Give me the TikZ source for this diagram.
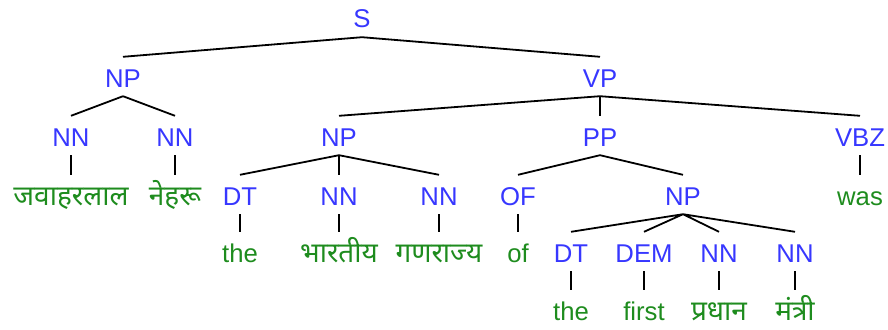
\documentclass[tikz,border=0pt]{standalone}
\usepackage{fontspec}
\setmainfont{Liberation Sans}
\newfontfamily\deva[Script=Devanagari]{Noto Sans}
\definecolor{tagblue}{RGB}{55,55,255}
\definecolor{wordgreen}{RGB}{30,140,30}
\tikzset{
  base/.style={anchor=base, inner xsep=2, inner ysep=9, text height=21, text depth=0,
               font=\fontsize{25.7}{30}\selectfont},
  tag/.style={base, text=tagblue},
  word/.style={base, text=wordgreen},
  hword/.style={word, font=\fontsize{28}{32}\selectfont\deva},
  edge/.style={draw=black, line width=1.8}
}
\begin{document}
\begin{tikzpicture}[x=1pt,y=-1pt]
\useasboundingbox (0,0) rectangle (888,329);

% phrase and tag labels
\node[tag] (s)    at (362,28)  {S};
\node[tag] (np1)  at (123,87)  {NP};
\node[tag] (vp)   at (600,87)  {VP};
\node[tag] (nn1)  at (71,146)  {NN};
\node[tag] (nn2)  at (175,146) {NN};
\node[tag] (np2)  at (339,146) {NP};
\node[tag] (pp)   at (600,146) {PP};
\node[tag] (vbz)  at (860,146) {VBZ};
\node[tag] (dt1)  at (240,205) {DT};
\node[tag] (nn3)  at (339,205) {NN};
\node[tag] (nn4)  at (439,205) {NN};
\node[tag] (of)   at (518,205) {OF};
\node[tag] (np3)  at (683,205) {NP};
\node[tag] (dt2)  at (571,262) {DT};
\node[tag] (dem)  at (644,262) {DEM};
\node[tag] (nn5)  at (719,262) {NN};
\node[tag] (nn6)  at (795,262) {NN};

% words
\node[hword] (w1)  at (71,205)  {जवाहरलाल};
\node[hword] (w2)  at (175,205) {नेहरू};
\node[word]  (w3)  at (860,205) {was};
\node[word]  (w4)  at (240,262) {the};
\node[hword] (w5)  at (339,262) {भारतीय};
\node[hword] (w6)  at (439,262) {गणराज्य};
\node[word]  (w7)  at (518,262) {of};
\node[word]  (w8)  at (571,320) {the};
\node[word]  (w9)  at (644,320) {first};
\node[hword] (w10) at (719,320) {प्रधान};
\node[hword] (w11) at (795,320) {मंत्री};

% branches
\path[edge]
  (s.south) -- (np1.north)
  (s.south) -- (vp.north)
  (np1.south) -- (nn1.north)
  (np1.south) -- (nn2.north)
  (nn1.south) -- (w1.north)
  (nn2.south) -- (w2.north)
  (vp.south) -- (np2.north)
  (vp.south) -- (pp.north)
  (vp.south) -- (vbz.north)
  (vbz.south) -- (w3.north)
  (np2.south) -- (dt1.north)
  (np2.south) -- (nn3.north)
  (np2.south) -- (nn4.north)
  (pp.south) -- (of.north)
  (pp.south) -- (np3.north)
  (dt1.south) -- (w4.north)
  (nn3.south) -- (w5.north)
  (nn4.south) -- (w6.north)
  (of.south) -- (w7.north)
  (np3.south) -- (dt2.north)
  (np3.south) -- (dem.north)
  (np3.south) -- (nn5.north)
  (np3.south) -- (nn6.north)
  (dt2.south) -- (w8.north)
  (dem.south) -- (w9.north)
  (nn5.south) -- (w10.north)
  (nn6.south) -- (w11.north);
\end{tikzpicture}
\end{document}
